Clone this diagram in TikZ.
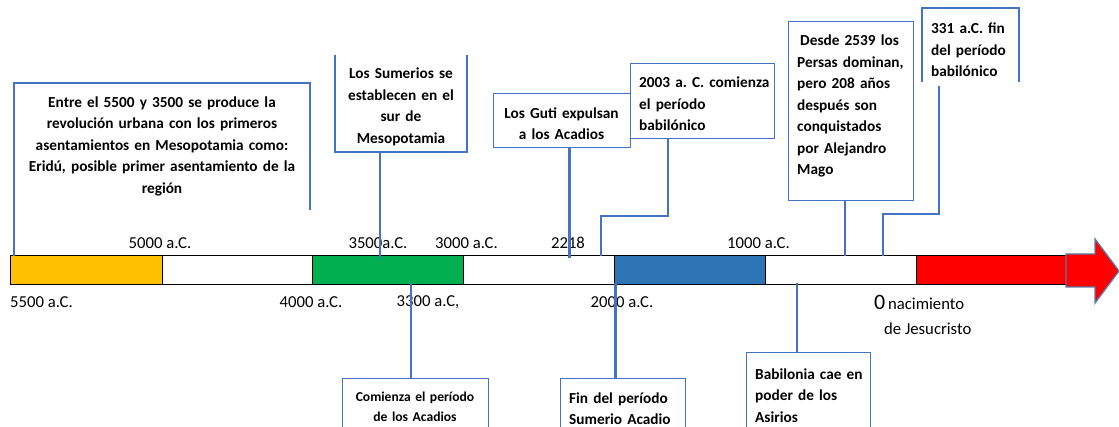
\documentclass[tikz,border=0pt]{standalone}
\usepackage{fontspec}
\setmainfont{Carlito}
\frenchspacing
\definecolor{boxblue}{HTML}{4472C4}
\definecolor{conblue}{HTML}{4472C4}
\definecolor{segyellow}{HTML}{FFC000}
\definecolor{seggreen}{HTML}{00B050}
\definecolor{segblue}{HTML}{2E75B6}
\definecolor{segred}{HTML}{FF0000}
\definecolor{headline}{HTML}{5A7CA8}
\begin{document}
\begin{tikzpicture}[x=1pt,y=-1pt,
  boxline/.style={draw=boxblue, line width=1.2pt},
  boxrect/.style={draw=boxblue, line width=1.2pt, inner sep=0pt, anchor=north west},
  ghost/.style={inner sep=0pt, anchor=north west},
  conn/.style={draw=conblue, line width=2.2pt},
  btext/.style={font=\fontsize{15.3}{21.5}\selectfont\bfseries, inner sep=0pt},
  stext/.style={font=\fontsize{13.6}{20.5}\selectfont\bfseries, inner sep=0pt},
  lbl/.style={font=\fontsize{16.7}{20}\selectfont, inner sep=0pt},
  seg/.style={draw=black, line width=0.9pt}]
\useasboundingbox (0,0) rectangle (1119,427);

% ---- bar ----
\filldraw[seg, fill=segyellow] (10,255) rectangle (162,284);
\filldraw[seg, fill=white] (162,255) rectangle (312,284);
\filldraw[seg, fill=seggreen] (312,255) rectangle (463,284);
\filldraw[seg, fill=white] (463,255) rectangle (614,284);
\filldraw[seg, fill=segblue] (614,255) rectangle (765,284);
\filldraw[seg, fill=white] (765,255) rectangle (916,284);
\filldraw[seg, fill=segred] (916,255) rectangle (1066,284);
\filldraw[fill=segred, draw=headline, line width=1.3pt, line join=miter]
  (1066,254) -- (1095,254) -- (1095,239) -- (1119,271) -- (1095,303) -- (1095,287) -- (1066,287) -- cycle;

% ---- attach points on the bar ----
\coordinate (a5500) at (14,256);
\coordinate (a3500) at (380,259);
\coordinate (a2218) at (569.5,258);
\coordinate (a2003) at (601,256);
\coordinate (a539) at (845,256);
\coordinate (a331) at (883,256);
\coordinate (a3300) at (411,283);
\coordinate (a2000) at (615.5,283);
\coordinate (a1000) at (797,283);

% ---- labels ----
\node[lbl] (l5000) at (160,243) {5000 a.C.};
\node[lbl] (l3500) at (378,243) {3500a.C.};
\node[lbl] (l3000) at (466.5,243) {3000 a.C.};
\node[lbl] (l2218) at (568,243) {2218};
\node[lbl] (l1000) at (758.5,243) {1000 a.C.};
\node[lbl, anchor=west] (l5500) at (10,302) {5500 a.C.};
\node[lbl] (l4000) at (311,302) {4000 a.C.};
\node[lbl] (l3300) at (428,302) {3300 a.C,};
\node[lbl] (l2000) at (622,302) {2000 a.C.};
\node[lbl, anchor=west] (l0) at (874,302) {{\fontsize{22}{24}\selectfont 0}\,nacimiento};
\node[lbl, anchor=west] (ljes) at (884,329) {de Jesucristo};

% ---- box 1 ----
\node[ghost, minimum width=296, minimum height=127] (b1) at (14,83) {};
\draw[boxline] (310,210) -- (310,83) -- (14,83) -- (14,160);
\node[btext, text width=290, align=center] (t1) at (162,146) {Entre el 5500 y 3500 se produce la\\revolución urbana con los primeros\\asentamientos en Mesopotamia como:\\Eridú, posible primer asentamiento de la\\región};
\draw[conn] (b1.north west |- 0,158) -- (a5500);

% ---- box Sumerios ----
\node[ghost, minimum width=132, minimum height=97] (b2) at (335,55) {};
\draw[boxline] (335,55) -- (335,152) -- (467,152) -- (467,55);
\node[btext, text width=130, align=center] (t2) at (401,107) {Los Sumerios se\\establecen en el\\sur de\\Mesopotamia};
\draw[conn] (b2.south -| a3500) -- (a3500);

% ---- box Guti ----
\node[boxrect, minimum width=137, minimum height=54] (b3) at (493,93) {};
\node[btext, text width=135, align=center] (t3) at (561.5,123.5) {Los Guti expulsan\\a los Acadios};
\draw[conn] (b3.south -| a2218) -- (a2218);

% ---- box 2003 ----
\node[boxrect, minimum width=144, minimum height=75] (b4) at (630,63) {};
\node[btext, text width=138, align=left, anchor=west] (t4) at (639,104) {2003 a. C. comienza\\el período\\babilónico};
\draw[conn] (668,138) -- (668,216) -- (a2003 |- 0,216) -- (a2003);

% ---- box Persas ----
\node[boxrect, minimum width=125, minimum height=179] (b5) at (788,21) {};
\node[btext, text width=118, align=left, anchor=west] (t5) at (797,106) {\hspace*{3pt}Desde 2539 los\\Persas dominan,\\pero 208 años\\después son\\conquistados\\por Alejandro\\Mago};
\draw[conn] (b5.south -| a539) -- (a539);

% ---- box 331 ----
\node[ghost, minimum width=97, minimum height=74] (b6) at (922,8) {};
\draw[boxline] (922,82) -- (922,8) -- (1019,8) -- (1019,82);
\node[btext, text width=90, align=left, anchor=west] (t6) at (931,50) {331 a.C. fin\\del período\\babilónico};
\draw[conn] (939,86) -- (939,214) -- (a331 |- 0,214) -- (a331);

% ---- bottom boxes ----
\node[boxrect, minimum width=146, minimum height=70] (b7) at (342,378) {};
\node[stext, text width=144, align=center] (t7) at (415,407) {Comienza el período\\de los Acadios};
\draw[conn] (a3300) -- (b7.north -| a3300);

\node[boxrect, minimum width=125, minimum height=70] (b8) at (560,378) {};
\node[btext, text width=120, align=left, anchor=west] (t8) at (569,408.5) {Fin del período\\Sumerio Acadio};
\draw[conn] (a2000) -- (b8.north -| a2000);

\node[boxrect, minimum width=124, minimum height=90] (b9) at (746,352) {};
\node[btext, text width=118, align=left, anchor=west] (t9) at (755,395.5) {Babilonia cae en\\poder de los\\Asirios};
\draw[conn] (a1000) -- (b9.north -| a1000);
\end{tikzpicture}
\end{document}
